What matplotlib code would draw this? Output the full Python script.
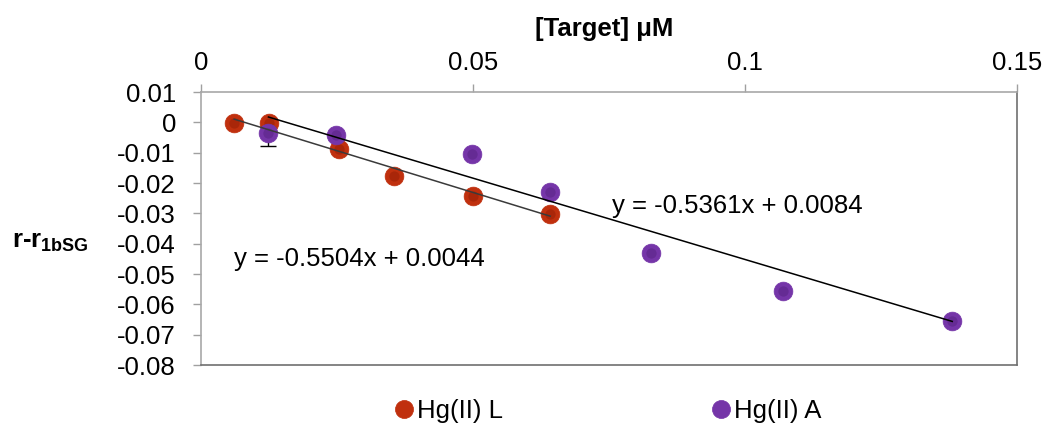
import matplotlib
matplotlib.use("Agg")
import matplotlib.pyplot as plt
import numpy as np
from matplotlib.lines import Line2D

plt.rcParams['font.family'] = ['Liberation Sans', 'DejaVu Sans']
plt.rcParams['mathtext.fontset'] = 'custom'
plt.rcParams['mathtext.rm'] = 'Liberation Sans'
plt.rcParams['mathtext.bf'] = 'Liberation Sans:bold'

# Data
x_L = [0.0061, 0.0125, 0.0254, 0.0354, 0.0500, 0.0642]
y_L = [-0.0002, -0.0001, -0.0089, -0.0176, -0.0243, -0.0302]
x_A = [0.0124, 0.0248, 0.0499, 0.0642, 0.0828, 0.1069, 0.1381]
y_A = [-0.0036, -0.0042, -0.0103, -0.0230, -0.0432, -0.0557, -0.0654]
err_A_low = [0.0042, 0, 0, 0, 0, 0, 0]
err_A_high = [0, 0, 0, 0, 0, 0, 0]
fit_L = (-0.5504, 0.0044)
fit_A = (-0.5361, 0.0084)
eq_L = "y = -0.5504x + 0.0044"
eq_A = "y = -0.5361x + 0.0084"
label_L = "Hg(II) L"
label_A = "Hg(II) A"
xticks = [0, 0.05, 0.1, 0.15]
xticklabels = ["0", "0.05", "0.1", "0.15"]
yticks = [0.01, 0, -0.01, -0.02, -0.03, -0.04, -0.05, -0.06, -0.07, -0.08]
yticklabels = ["0.01", "0", "-0.01", "-0.02", "-0.03", "-0.04", "-0.05", "-0.06", "-0.07", "-0.08"]

col_L = '#C0300E'
col_A = '#7535A8'
dark_L = '#8E1C05'
dark_A = '#52207C'

W, H = 1049, 436
fig = plt.figure(figsize=(W / 100, H / 100), dpi=100)
ax = fig.add_axes([201 / W, 1 - 365 / H, (1017 - 201) / W, (365 - 92) / H])
ax.set_xlim(0, 0.15)
ax.set_ylim(-0.08, 0.01)

ms = 13.5


def spheres(x, y, col, dark, z, size=ms):
    ax.plot(x, y, 'o', ms=size, color=col, mec=col, mew=0.5, zorder=z)
    ax.plot(x, y, 'o', ms=size * 0.55, color=dark, mec='none', alpha=0.45, zorder=z + 0.1)


spheres(x_L, y_L, col_L, dark_L, 3)
# error bars with series A
ax.errorbar(x_A, y_A, yerr=[err_A_low, err_A_high], fmt='none', ecolor='black',
            elinewidth=1, capsize=6, capthick=1, zorder=3.5)
spheres(x_A, y_A, col_A, dark_A, 4)

# trend lines on top
for xs, (m, b), c in [(x_L, fit_L, '#3A3A3A'), (x_A, fit_A, 'black')]:
    xx = np.array([min(xs), max(xs)])
    ax.plot(xx, m * xx + b, color=c, lw=1.1, zorder=6)

# axes styling
ax.xaxis.tick_top()
ax.set_xticks(xticks)
ax.set_xticklabels(xticklabels)
ax.set_yticks(yticks)
ax.set_yticklabels(yticklabels)
ax.tick_params(axis='x', which='both', direction='out', length=6, width=1,
               color='#A0A0A0', labelsize=18.5, pad=6)
ax.tick_params(axis='y', which='both', direction='out', length=6, width=1,
               color='#A0A0A0', labelsize=18.5, pad=12)
ax.spines['top'].set_color('#A8A8A8')
ax.spines['left'].set_color('#A8A8A8')
ax.spines['bottom'].set_color('#707070')
ax.spines['right'].set_color('#707070')
for s in ax.spines.values():
    s.set_linewidth(1.2)

# equations
ax.text(0.0755, -0.0275, eq_A, fontsize=18.5, ha='left', va='center')
ax.text(0.0060, -0.0450, eq_L, fontsize=18.5, ha='left', va='center')

# labels
fig.text(604 / W, 1 - 29 / H, "[Target] \u03bcM", fontsize=18.5, fontweight='bold',
         ha='center', va='center')
fig.text(12 / W, 1 - 242 / H, r"r-r$_{\mathbf{1bSG}}$", fontsize=18.5,
         fontweight='bold', ha='left', va='center')

# legend
handles = [Line2D([], [], marker='o', ls='none', ms=13, color=col_L, mec=col_L, mew=0.5),
           Line2D([], [], marker='o', ls='none', ms=13, color=col_A, mec=col_A, mew=0.5)]
fig.legend(handles, [label_L, label_A], loc='center', bbox_to_anchor=(606 / W, 1 - 411 / H),
           ncol=2, frameon=False, fontsize=18.5, handletextpad=0.0, columnspacing=8.0,
           handlelength=1.0)

fig.savefig("out.png", dpi=100)
